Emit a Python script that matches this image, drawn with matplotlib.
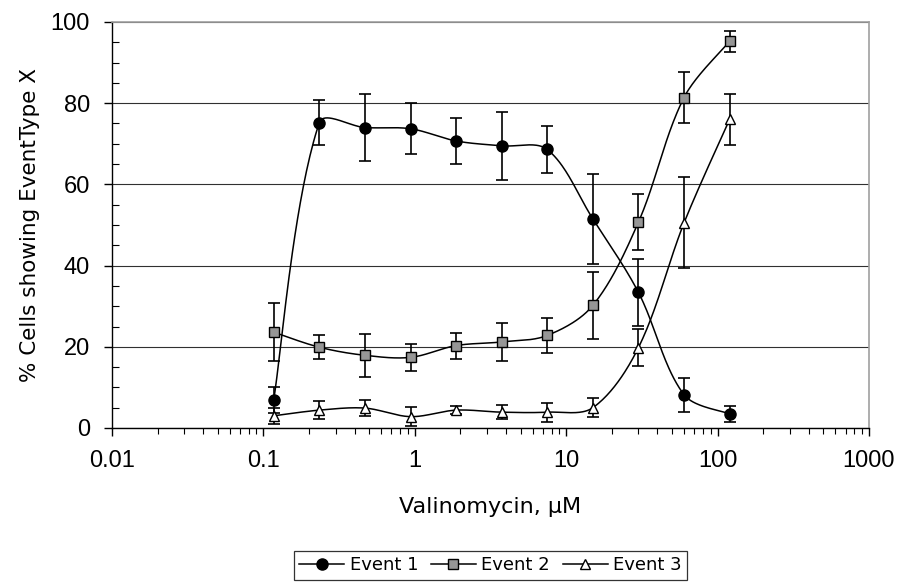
import numpy as np
import matplotlib
matplotlib.use("Agg")
import matplotlib.pyplot as plt
from matplotlib.lines import Line2D
from matplotlib.ticker import LogLocator, MultipleLocator, FuncFormatter

# concentrations (uM), doubling dilution series
conc = [0.117, 0.234, 0.469, 0.938, 1.875, 3.75, 7.5, 15, 30, 60, 120]

event1 = [7.0, 75.2, 74.0, 73.7, 70.7, 69.5, 68.6, 51.5, 33.4, 8.2, 3.5]
event1_err = [3.2, 5.5, 8.3, 6.3, 5.7, 8.3, 5.7, 11.0, 8.3, 4.2, 2.0]

event2 = [23.6, 19.9, 17.9, 17.4, 20.3, 21.2, 22.8, 30.2, 50.7, 81.4, 95.2]
event2_err = [7.2, 3.0, 5.3, 3.3, 3.2, 4.6, 4.4, 8.3, 6.9, 6.4, 2.6]

event3 = [3.0, 4.4, 4.9, 2.8, 4.4, 3.9, 3.9, 5.0, 19.8, 50.5, 76.0]
event3_err = [2.0, 2.2, 2.0, 2.3, 1.0, 1.8, 2.3, 2.4, 4.6, 11.2, 6.3]

labels = ["Event 1", "Event 2", "Event 3"]

PX_DECADE = 151.0   # screen px per decade on x
PX_UNIT = 4.05      # screen px per % on y


def smooth(xs, ys, n=40):
    # smoothed line like the spreadsheet one: cubic Bezier pieces,
    # control arms scaled by neighbouring segment lengths (screen units)
    u = np.log10(np.asarray(xs, float)) * PX_DECADE
    v = np.asarray(ys, float) * PX_UNIT
    p = np.column_stack([u, v])
    p = np.vstack([p[0], p, p[-1]])
    out = []
    t = np.linspace(0, 1, n)[:, None]
    for i in range(1, len(p) - 2):
        p0, p1, p2, p3 = p[i - 1], p[i], p[i + 1], p[i + 2]
        d01 = np.hypot(*(p1 - p0))
        d12 = np.hypot(*(p2 - p1))
        d23 = np.hypot(*(p3 - p2))
        f1 = d12 / (d01 + d12) / 3.0 if d01 > 0 else 1 / 6.0
        f2 = d12 / (d12 + d23) / 3.0 if d23 > 0 else 1 / 6.0
        c1 = p1 + (p2 - p0) * f1
        c2 = p2 - (p3 - p1) * f2
        seg = ((1 - t) ** 3) * p1 + 3 * ((1 - t) ** 2) * t * c1 \
            + 3 * (1 - t) * t ** 2 * c2 + t ** 3 * p2
        out.append(seg if i == 1 else seg[1:])
    out = np.vstack(out)
    return 10 ** (out[:, 0] / PX_DECADE), out[:, 1] / PX_UNIT


fig = plt.figure(figsize=(9, 5.86), dpi=100)
ax = fig.add_axes([112 / 900, 1 - 428 / 586, (869 - 112) / 900, (428 - 22) / 586])

ax.set_xscale("log")
ax.set_xlim(0.01, 1000)
ax.set_ylim(0, 100)

styles = [
    dict(marker="o", mfc="black", mec="black", ms=8),
    dict(marker="s", mfc="#969696", mec="black", ms=7, mew=1.0),
    dict(marker="^", mfc="white", mec="black", ms=7.5, mew=1.0),
]
series = [(event1, event1_err), (event2, event2_err), (event3, event3_err)]

for (vals, errs), st in zip(series, styles):
    sx, sy = smooth(conc, vals)
    ax.plot(sx, sy, color="black", lw=1.1, zorder=3)
    ax.errorbar(conc, vals, yerr=errs, fmt="none", ecolor="black",
                elinewidth=1.2, capsize=4.5, capthick=1.2, zorder=4)
    ax.plot(conc, vals, linestyle="none", zorder=5, **st)

# grid and frame
ax.yaxis.set_major_locator(MultipleLocator(20))
ax.yaxis.set_minor_locator(MultipleLocator(5))
ax.grid(axis="y", which="major", color="#303030", lw=0.8)
ax.set_axisbelow(True)
for side in ["top", "right"]:
    ax.spines[side].set_color("#a0a0a0")
    ax.spines[side].set_linewidth(1.2)
for side in ["left", "bottom"]:
    ax.spines[side].set_color("black")
    ax.spines[side].set_linewidth(1.0)

ax.xaxis.set_major_locator(LogLocator(base=10, numticks=10))
ax.xaxis.set_minor_locator(LogLocator(base=10, subs=np.arange(2, 10), numticks=20))
ax.xaxis.set_major_formatter(FuncFormatter(lambda v, p: f"{v:g}"))
ax.tick_params(axis="x", which="major", direction="out", length=6, width=1, pad=10)
ax.tick_params(axis="x", which="minor", direction="out", length=4, width=0.8)
ax.tick_params(axis="y", which="major", direction="out", length=6, width=1, pad=10)
ax.tick_params(axis="y", which="minor", direction="in", length=5, width=0.8)
for lab in ax.get_xticklabels() + ax.get_yticklabels():
    lab.set_fontfamily("Liberation Sans")
    lab.set_fontsize(17)

ax.set_xlabel("Valinomycin, \u03bcM", fontsize=16, family="DejaVu Sans")
ax.set_ylabel("% Cells showing EventType X", fontsize=15.5, family="DejaVu Sans")
ax.xaxis.set_label_coords(0.5, (428 - 497) / 406)
ax.yaxis.set_label_coords((40 - 112) / 757, 0.5)

handles = [Line2D([], [], color="black", lw=1.1, **st) for st in styles]
leg = ax.legend(handles, labels, loc="upper center",
                bbox_to_anchor=(0.5, (428 - 551) / 406),
                ncol=3, frameon=True, fancybox=False,
                prop={"family": "DejaVu Sans", "size": 13},
                handlelength=2.5, handletextpad=0.3, columnspacing=0.7,
                borderpad=0.3, borderaxespad=0)
leg.get_frame().set_edgecolor("black")
leg.get_frame().set_linewidth(0.9)

fig.savefig("out.png", dpi=100)
